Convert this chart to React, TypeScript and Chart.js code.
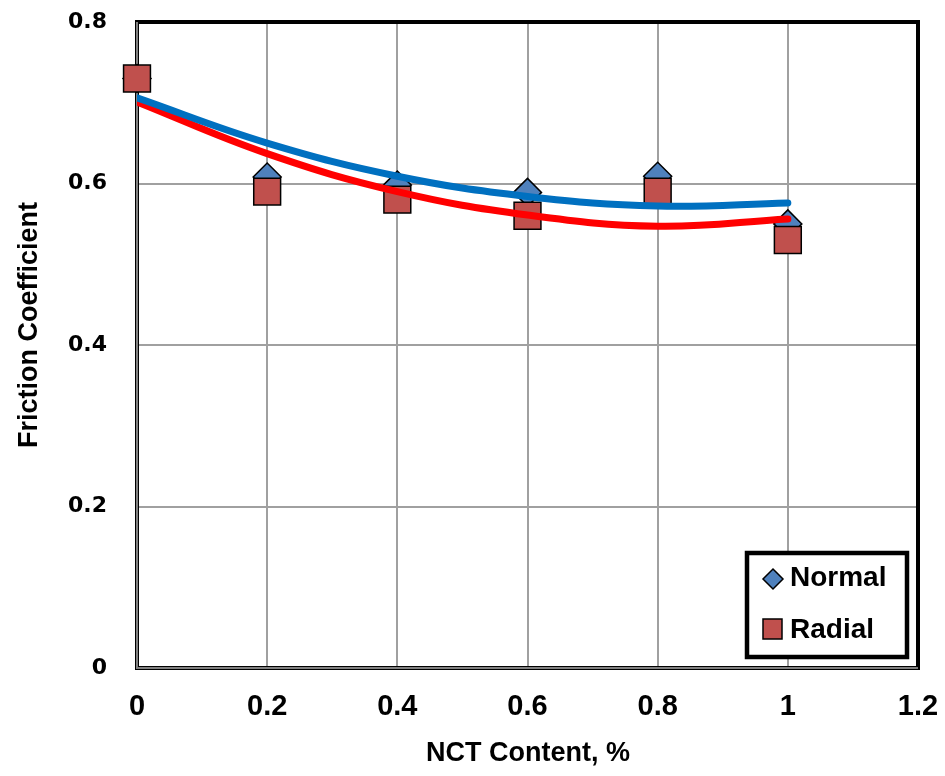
import React, { useEffect, useRef } from "react";
import { Chart, registerables } from "chart.js";

Chart.register(...registerables);

const xValues = [0, 0.2, 0.4, 0.6, 0.8, 1.0];
const normalValues = [0.73, 0.608, 0.598, 0.589, 0.609, 0.55];
const radialValues = [0.73, 0.59, 0.58, 0.56, 0.59, 0.53];
// trendline readings (polynomial fits)
const normalTrend = [0.706, 0.65, 0.609, 0.584, 0.572, 0.576];
const radialTrend = [0.701, 0.637, 0.59, 0.561, 0.547, 0.556];
const xTicks = [0, 0.2, 0.4, 0.6, 0.8, 1, 1.2];
const yTicks = [0, 0.2, 0.4, 0.6, 0.8];

const seriesNames = ["Normal", "Radial"];

const NORMAL_FILL = "#4F81BD";
const RADIAL_FILL = "#C0504D";
const NORMAL_LINE = "#0070C0";
const RADIAL_LINE = "#FF0000";

const toPts = (ys: number[]) => xValues.map((x, i) => ({ x, y: ys[i] }));

const fmt = (v: number) => {
  const r = Math.round(v * 10) / 10;
  return r === 0 ? "0" : String(r);
};

const decorPlugin = {
  id: "decor",
  beforeDatasetsDraw(chart: any) {
    const { ctx, chartArea: a } = chart;
    ctx.save();
    ctx.strokeStyle = "#000";
    ctx.lineWidth = 4;
    ctx.strokeRect(a.left, a.top, a.right - a.left, a.bottom - a.top);
    ctx.strokeStyle = "#808080";
    ctx.lineWidth = 2;
    ctx.beginPath();
    ctx.moveTo(a.left, a.top);
    ctx.lineTo(a.left, a.bottom);
    ctx.lineTo(a.right, a.bottom);
    ctx.stroke();
    ctx.restore();
  },
  afterDraw(chart: any) {
    const { ctx } = chart;
    ctx.save();
    ctx.fillStyle = "#000";
    ctx.font = "bold 27px 'Liberation Sans', Arial, sans-serif";
    ctx.textAlign = "center";
    ctx.textBaseline = "middle";
    ctx.fillText("NCT Content, %", 528, 754);
    ctx.translate(30, 325);
    ctx.rotate(-Math.PI / 2);
    ctx.fillText("Friction Coefficient", 0, 0);
    ctx.restore();

    // legend
    ctx.save();
    const lx = 747, ly = 553, lw = 160, lh = 104;
    ctx.fillStyle = "#fff";
    ctx.fillRect(lx, ly, lw, lh);
    ctx.strokeStyle = "#000";
    ctx.lineWidth = 4.5;
    ctx.strokeRect(lx, ly, lw, lh);
    const dx = 773, dy = 579, dr = 10;
    ctx.beginPath();
    ctx.moveTo(dx, dy - dr);
    ctx.lineTo(dx + dr, dy);
    ctx.lineTo(dx, dy + dr);
    ctx.lineTo(dx - dr, dy);
    ctx.closePath();
    ctx.fillStyle = NORMAL_FILL;
    ctx.fill();
    ctx.lineWidth = 1.5;
    ctx.stroke();
    ctx.fillStyle = RADIAL_FILL;
    ctx.fillRect(763, 619, 19, 20);
    ctx.strokeRect(763, 619, 19, 20);
    ctx.fillStyle = "#000";
    ctx.font = "bold 28px 'Liberation Sans', Arial, sans-serif";
    ctx.textAlign = "left";
    ctx.textBaseline = "middle";
    ctx.fillText(seriesNames[0], 790, 578);
    ctx.fillText(seriesNames[1], 790, 630);
    ctx.restore();
  },
};

export default function App() {
  const ref = useRef<HTMLCanvasElement | null>(null);
  useEffect(() => {
    if (!ref.current) return;
    const chart = new Chart(ref.current, {
      type: "scatter",
      data: {
        datasets: [
          {
            label: seriesNames[0] + " trend",
            data: toPts(normalTrend),
            showLine: true,
            borderColor: NORMAL_LINE,
            borderWidth: 7,
            borderCapStyle: "round",
            pointRadius: 0,
            tension: 0.4,
            order: 0,
          } as any,
          {
            label: seriesNames[1] + " trend",
            data: toPts(radialTrend),
            showLine: true,
            borderColor: RADIAL_LINE,
            borderWidth: 7,
            borderCapStyle: "round",
            pointRadius: 0,
            tension: 0.4,
            order: 1,
          } as any,
          {
            label: seriesNames[1],
            data: toPts(radialValues),
            pointStyle: "rect",
            pointRadius: 19,
            backgroundColor: RADIAL_FILL,
            borderColor: "#000",
            borderWidth: 1.5,
            clip: false,
            order: 2,
          } as any,
          {
            label: seriesNames[0],
            data: toPts(normalValues),
            pointStyle: "rectRot",
            pointRadius: 14,
            backgroundColor: NORMAL_FILL,
            borderColor: "#000",
            borderWidth: 1.5,
            clip: false,
            order: 3,
          } as any,
        ],
      },
      options: {
        animation: false,
        responsive: true,
        maintainAspectRatio: false,
        layout: { padding: { left: 0, top: 22, right: 27, bottom: 0 } },
        plugins: { legend: { display: false }, tooltip: { enabled: false } },
        scales: {
          x: {
            type: "linear",
            min: 0,
            max: 1.2,
            afterBuildTicks: (s: any) => {
              s.ticks = xTicks.map((v) => ({ value: v }));
            },
            afterFit: (s: any) => {
              s.height = 108;
              s.paddingLeft = 0;
              s.paddingRight = 0;
            },
            grid: { color: "#a0a0a0", lineWidth: 2, drawTicks: false },
            border: { display: false },
            ticks: {
              padding: 22,
              color: "#000",
              font: { family: "'Liberation Sans', Arial", size: 29, weight: "bold" },
              callback: (v: any) => fmt(Number(v)),
            },
          },
          y: {
            type: "linear",
            min: 0,
            max: 0.8,
            afterBuildTicks: (s: any) => {
              s.ticks = yTicks.map((v) => ({ value: v }));
            },
            afterFit: (s: any) => {
              s.width = 137;
              s.paddingTop = 0;
              s.paddingBottom = 0;
            },
            grid: { color: "#a0a0a0", lineWidth: 2, drawTicks: false },
            border: { display: false },
            ticks: {
              padding: 30,
              color: "#000",
              font: { family: "'DejaVu Sans'", size: 22, weight: "bold" },
              callback: (v: any) => fmt(Number(v)),
            },
          },
        },
      } as any,
      plugins: [decorPlugin],
    });
    return () => chart.destroy();
  }, []);
  return (
    <div style={{ position: "absolute", left: 0, top: 0, width: 945, height: 776, background: "#fff" }}>
      <canvas ref={ref} />
    </div>
  );
}
